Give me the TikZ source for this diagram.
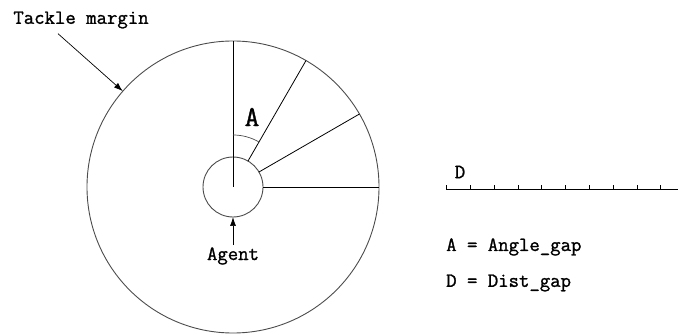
\documentclass[tikz,border=0pt]{standalone}
\usepackage{fontspec}
\setmonofont[FakeBold=1.2]{Latin Modern Mono}
\usetikzlibrary{positioning}
\usetikzlibrary{arrows}
\usetikzlibrary{arrows.meta}

\begin{document}
\begin{tikzpicture}[
    x=1pt, y=-1pt,
    >={Latex[length=9pt, width=6pt]},
    every node/.style={font=\ttfamily\fontsize{20.2}{22}\selectfont, inner sep=0pt},
    ring/.style={draw=black!70, line width=0.9pt, circle, inner sep=0pt, outer sep=0pt},
    ray/.style={line width=0.8pt},
    pointer/.style={->, line width=0.7pt}
]
\useasboundingbox (0,0) rectangle (678,334);
% sectors round the agent
\node[ring, minimum size=292pt] (margin) at (233,187) {};
\node[ring, minimum size=60pt] (agent) at (233,187) {};
\draw[ray] (agent.center) -- (margin.90);
\draw[ray] (agent.60) -- (margin.60);
\draw[ray] (agent.30) -- (margin.30);
\draw[ray] (agent.0) -- (margin.0);
\draw[line width=0.7pt, black!70] (233,135) arc[start angle=-90, end angle=-60, radius=52];
\node[font=\ttfamily\fontsize{29}{31}\selectfont] (anglbl) at (252,117) {A};
% labels with arrows
\node (tackle) at (81,20) {Tackle margin};
\draw[pointer] ([xshift=-23pt, yshift=-5pt]tackle.south) -- (margin.139);
\node (agentlbl) at (233,256) {Agent};
\draw[pointer] ([yshift=2pt]agentlbl.north) -- (agent.south);
% distance ruler
\node (distlbl) at (460,172) {D};
\draw[ray] (446,189) -- (678,189);
\foreach \k in {0,...,9}
    \draw[line width=0.7pt] (446.7+\k*23.78,189) -- ++(0,-4);
% legend
\node[anchor=west] (angdef) at (446,247) {A = Angle\_gap};
\node[anchor=west] (distdef) at (446,283) {D = Dist\_gap};
\end{tikzpicture}
\end{document}
